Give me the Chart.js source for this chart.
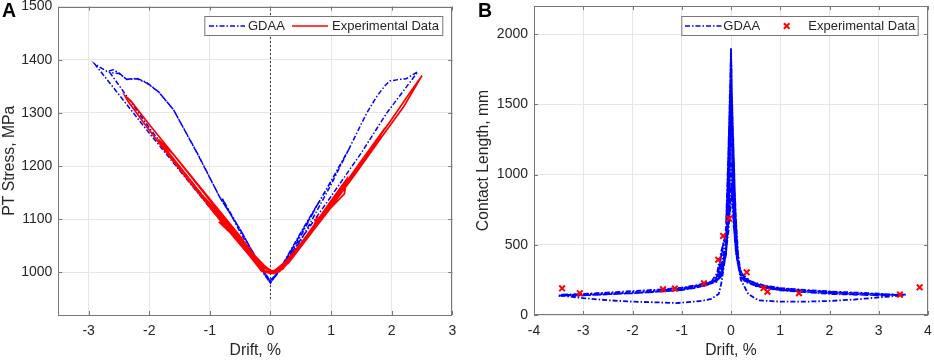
<!DOCTYPE html>
<html>
<head>
<meta charset="utf-8">
<script src="https://cdn.jsdelivr.net/npm/chart.js@4.4.1/dist/chart.umd.min.js"></script>
<style>
  body { margin: 0; background: #fff; width: 934px; height: 360px; position: relative; overflow: hidden; }
  canvas { position: absolute; top: 0; }
  .tag { position: absolute; top: 0; z-index: 2; font: bold 19.5px 'Liberation Sans', Arial, sans-serif; line-height: 20px; color: #000; }
</style>
</head>
<body>
<canvas id="chartA" width="467" height="360" style="left:0"></canvas>
<canvas id="chartB" width="460" height="360" style="left:474px"></canvas>
<div class="tag" style="left:2px">A</div>
<div class="tag" style="left:478px">B</div>
<script>
// ---- data (drift %, value) ----
const driftTicksA = [-3, -2, -1, 0, 1, 2, 3];
const stressTicks = [1000, 1100, 1200, 1300, 1400, 1500];
const driftTicksB = [-4, -3, -2, -1, 0, 1, 2, 3, 4];
const contactTicks = [0, 500, 1000, 1500, 2000];

// panel A: PT stress (MPa)
const gdaaStress = [
  [0, 985], [0.15, 1005], [0.5, 1075], [0.8, 1133],
  [0.5, 1068], [0.2, 1012], [0, 983],
  [-0.2, 1020], [-0.5, 1080], [-0.8, 1140],
  [-0.5, 1076], [-0.2, 1016], [0, 980],
  [0.15, 1004], [0.5, 1073], [1.0, 1172], [1.29, 1231],
  [1.0, 1165], [0.5, 1060], [0.15, 1003], [0, 981],
  [-0.2, 1019], [-0.5, 1081], [-0.83, 1140], [-1.2, 1222], [-1.6, 1306], [-1.85, 1340], [-2.04, 1356],
  [-2.2, 1364], [-2.37, 1363], [-2.5, 1374], [-2.65, 1376],
  [-2.0, 1272], [-1.5, 1198], [-1.0, 1128], [-0.5, 1062], [-0.2, 1015], [0, 980],
  [0.16, 1005], [0.5, 1073], [1.0, 1171], [1.29, 1231], [1.45, 1268], [1.59, 1300], [1.75, 1330],
  [1.88, 1350], [1.97, 1360], [2.13, 1363], [2.24, 1364], [2.35, 1372], [2.43, 1377],
  [1.92, 1300], [1.5, 1225], [1.0, 1143], [0.5, 1062], [0.15, 1005], [0, 982],
  [-0.2, 1020], [-0.5, 1081], [-0.83, 1140], [-1.2, 1223], [-1.6, 1306], [-1.85, 1340], [-2.04, 1357],
  [-2.2, 1365], [-2.37, 1363], [-2.5, 1375], [-2.59, 1381], [-2.7, 1378], [-2.9, 1392],
  [-2.4, 1320], [-2.0, 1262], [-1.5, 1192], [-1.0, 1122], [-0.5, 1054], [-0.2, 1012], [0, 980]
];
const expStress = [
  [0, 1000], [0.15, 1003], [0.3, 1020], [0.5, 1050], [0.35, 1028], [0.15, 1002], [0, 998],
  [-0.15, 1003], [-0.3, 1025], [-0.5, 1055], [-0.35, 1033], [-0.15, 1006], [0, 1000],
  [0.2, 1006], [0.5, 1048], [0.7, 1080], [0.76, 1103], [0.86, 1105], [0.6, 1068], [0.3, 1022], [0.1, 999],
  [-0.1, 1000], [-0.4, 1040], [-0.8, 1098], [-0.84, 1094], [-0.6, 1068], [-0.3, 1028], [-0.1, 1004], [0.05, 998],
  [0.3, 1018], [0.7, 1078], [1.0, 1122], [1.22, 1148], [1.26, 1176], [1.0, 1135], [0.6, 1070], [0.3, 1025], [0.05, 1002],
  [-0.2, 1012], [-0.6, 1066], [-1.0, 1122], [-1.25, 1160], [-1.0, 1130], [-0.6, 1075], [-0.2, 1018], [0.05, 999],
  [0.4, 1035], [0.9, 1110], [1.4, 1188], [1.78, 1248], [1.83, 1262], [1.5, 1210], [1.0, 1130], [0.5, 1055], [0.15, 1006], [0, 1001],
  [-0.4, 1048], [-0.9, 1112], [-1.4, 1185], [-1.85, 1250], [-1.6, 1222], [-1.1, 1150], [-0.6, 1078], [-0.25, 1025], [0.05, 1000],
  [0.4, 1035], [0.9, 1108], [1.4, 1185], [1.9, 1265], [2.2, 1312], [2.5, 1370], [2.3, 1338], [2.0, 1288], [1.5, 1208],
  [1.0, 1128], [0.5, 1052], [0.15, 1006], [0, 1002],
  [-0.3, 1030], [-0.8, 1095], [-1.3, 1165], [-1.8, 1238], [-2.1, 1283], [-2.35, 1322], [-2.4, 1332], [-2.3, 1322],
  [-2.0, 1278], [-1.5, 1208], [-1.0, 1138], [-0.5, 1068], [-0.2, 1022], [0, 1003]
];
const zeroDrift = [[0, 950], [0, 1500]];

// panel B: contact length (mm)
const gdaaContact = [
  [0, 1900],
  [0.02, 1300], [0.05, 750], [0.1, 470], [0.15, 340], [0.2, 285], [0.3, 245], [0.5, 218], [0.7, 202],
  [0.5, 225], [0.3, 255], [0.2, 300], [0.12, 420], [0.06, 700], [0.02, 1400], [0, 1880],
  [-0.02, 1250], [-0.05, 720], [-0.1, 460], [-0.15, 335], [-0.2, 282], [-0.3, 245], [-0.6, 212],
  [-0.4, 235], [-0.28, 300], [-0.2, 450], [-0.12, 560], [-0.05, 800], [-0.02, 1350], [0, 1850],
  [0.02, 1280], [0.05, 720], [0.1, 455], [0.2, 275], [0.3, 238], [0.5, 212], [0.7, 198], [1.0, 182], [1.4, 168],
  [1.0, 178], [0.6, 200], [0.3, 240], [0.15, 350], [0.08, 520], [0.03, 900], [0, 1800],
  [-0.02, 1200], [-0.05, 700], [-0.1, 450], [-0.2, 278], [-0.3, 240], [-0.5, 220], [-1.0, 188], [-1.4, 178],
  [-1.0, 185], [-0.6, 205], [-0.35, 230], [-0.25, 300], [-0.2, 420], [-0.15, 520], [-0.08, 600], [-0.03, 900], [0, 1750],
  [0.02, 1260], [0.05, 700], [0.1, 450], [0.2, 270], [0.3, 235], [0.5, 208], [0.7, 195], [1.0, 180], [1.5, 165],
  [2.0, 155], [2.5, 150], [3.0, 145], [3.5, 140],
  [3.0, 125], [2.5, 110], [2.0, 100], [1.5, 95], [1.0, 95], [0.55, 105], [0.35, 150], [0.2, 250], [0.12, 400], [0.05, 650], [0, 1000],
  [-0.02, 1150], [-0.05, 680], [-0.1, 440], [-0.2, 275], [-0.3, 238], [-0.5, 215], [-1.0, 183], [-1.5, 170],
  [-2.0, 160], [-2.5, 150], [-3.0, 145], [-3.5, 140],
  [-3.0, 120], [-2.5, 105], [-2.0, 95], [-1.5, 90], [-1.1, 85], [-0.6, 100], [-0.4, 115], [-0.25, 150], [-0.2, 220],
  [-0.12, 400], [-0.05, 600], [0, 900],
  [0.03, 900], [0.1, 440], [0.2, 265], [0.5, 205], [1.0, 175], [2.0, 150], [3.0, 140], [3.55, 145],
  [3.0, 140], [2.0, 155], [1.0, 178], [0.5, 210], [0.2, 290], [0.08, 600], [0, 1500],
  [-0.03, 900], [-0.1, 445], [-0.2, 270], [-0.5, 210], [-1.0, 178], [-2.0, 155], [-3.0, 140], [-3.5, 135],
  [-3.0, 148], [-2.0, 162], [-1.0, 190], [-0.5, 222], [-0.25, 260], [-0.1, 480], [-0.03, 1000], [0, 1700],
  [0.01, 1600], [0.03, 1000], [0.06, 620], [0.1, 460], [0.2, 290], [0.4, 232], [0.7, 205], [1.0, 190], [1.5, 175],
  [2.0, 165], [2.5, 155], [3.0, 148], [3.45, 142],
  [3.0, 152], [2.5, 160], [2.0, 168], [1.5, 178], [1.0, 192], [0.7, 208], [0.4, 240], [0.2, 300], [0.1, 480],
  [0.05, 800], [0.02, 1300], [0, 1880],
  [-0.01, 1600], [-0.03, 1000], [-0.06, 640], [-0.1, 470], [-0.2, 295], [-0.4, 238], [-0.7, 212], [-1.0, 195],
  [-1.5, 180], [-2.0, 170], [-2.5, 160], [-3.0, 150], [-3.45, 145],
  [-3.0, 140], [-2.5, 148], [-2.0, 155], [-1.5, 165], [-1.0, 178], [-0.7, 195], [-0.4, 225], [-0.2, 280], [-0.1, 430],
  [-0.05, 700], [-0.02, 1200], [0, 1900],
  [0.01, 1700], [0.03, 1100], [0.05, 800], [0.03, 1200], [0.01, 1800], [-0.01, 1750], [-0.03, 1150], [-0.05, 850],
  [-0.07, 600], [-0.04, 1000], [-0.015, 1600], [0, 1850], [0.015, 1650], [0.04, 950], [0.07, 650], [0.04, 1050],
  [0.01, 1700], [0, 1900],
  [-0.1, 520], [-0.2, 350], [-0.3, 230], [-0.25, 330], [-0.15, 500], [-0.05, 650], [0, 800],
  [0.06, 1100], [0.09, 700], [0.12, 520], [0.07, 950], [0.03, 1400], [0, 1850],
  [-0.04, 1300], [-0.07, 900], [-0.1, 650], [-0.06, 1100], [-0.02, 1550], [0, 1800],
  [0.05, 1200], [0.1, 600], [0.15, 400], [0.08, 800], [0.02, 1500], [0, 1700]
];
const expContact = [
  [-3.43, 190], [-3.07, 155], [-1.38, 183], [-1.14, 188], [-0.55, 226], [-0.26, 394], [-0.16, 563],
  [-0.04, 686], [0.32, 304], [0.66, 192], [0.74, 166], [1.38, 155], [3.43, 145], [3.83, 197]
];

// ---- style ----
const FONT = "'Liberation Sans', Arial, sans-serif";
const TEXT = '#262626';
const FRAME = '#777777';
const GRID = '#e6e6e6';
const BLUE = '#0000ff';
const RED = '#ff0000';
const DASHDOT = [5, 2, 1.5, 2];

const pts = arr => arr.map(p => ({ x: p[0], y: p[1] }));

function drawLegend(ctx, lg) {
  ctx.save();
  ctx.fillStyle = '#fff';
  ctx.fillRect(lg.left, lg.top, lg.width, lg.height);
  ctx.strokeStyle = FRAME;
  ctx.lineWidth = 1;
  ctx.strokeRect(lg.left + 0.5, lg.top + 0.5, lg.width - 1, lg.height - 1);
  const cy = lg.top + lg.height / 2;
  lg.items.forEach(it => {
    ctx.save();
    if (it.kind === 'line') {
      ctx.strokeStyle = it.color;
      ctx.lineWidth = 1.5;
      ctx.setLineDash(it.dash || []);
      ctx.beginPath();
      ctx.moveTo(lg.left + it.sx, cy);
      ctx.lineTo(lg.left + it.sx + it.sw, cy);
      ctx.stroke();
    } else {
      ctx.strokeStyle = it.color;
      ctx.lineWidth = 2;
      const cx = lg.left + it.sx, r = 2.8;
      ctx.beginPath();
      ctx.moveTo(cx - r, cy - r); ctx.lineTo(cx + r, cy + r);
      ctx.moveTo(cx - r, cy + r); ctx.lineTo(cx + r, cy - r);
      ctx.stroke();
    }
    ctx.restore();
    ctx.fillStyle = TEXT;
    ctx.font = '13px ' + FONT;
    ctx.textBaseline = 'middle';
    ctx.fillText(it.label, lg.left + it.tx, cy + 0.5);
  });
  ctx.restore();
}

// frame on all four sides, inward ticks, boxed legend (MATLAB look)
const matlabBox = {
  id: 'matlabBox',
  afterDatasetsDraw(chart, args, opts) {
    const { ctx, chartArea: a, scales } = chart;
    ctx.save();
    ctx.strokeStyle = FRAME;
    ctx.lineWidth = 1;
    ctx.beginPath();
    scales.x.ticks.forEach(t => {
      const px = Math.round(scales.x.getPixelForValue(t.value)) + 0.5;
      ctx.moveTo(px, a.bottom); ctx.lineTo(px, a.bottom - 4);
      ctx.moveTo(px, a.top); ctx.lineTo(px, a.top + 4);
    });
    scales.y.ticks.forEach(t => {
      const py = Math.round(scales.y.getPixelForValue(t.value)) + 0.5;
      ctx.moveTo(a.left, py); ctx.lineTo(a.left + 4, py);
      ctx.moveTo(a.right, py); ctx.lineTo(a.right - 4, py);
    });
    ctx.stroke();
    ctx.strokeRect(Math.round(a.left) + 0.5, Math.round(a.top) + 0.5,
      Math.round(a.width) - 1, Math.round(a.height) - 1);
    ctx.restore();
    if (opts.legend) drawLegend(ctx, opts.legend);
  }
};

function axis(min, max, ticks, title, isX, size) {
  return {
    type: 'linear', min: min, max: max,
    afterBuildTicks: s => { s.ticks = ticks.map(v => ({ value: v })); },
    afterFit: s => {
      if (isX) { s.height = size; s.paddingLeft = 0; s.paddingRight = 0; }
      else { s.width = size; s.paddingTop = 0; s.paddingBottom = 0; }
    },
    grid: { color: GRID, drawTicks: false },
    border: { display: false },
    ticks: { color: TEXT, font: { family: FONT, size: 14 }, padding: isX ? 8 : 6,
      callback: v => String(v) },
    title: { display: true, text: title, color: TEXT, font: { family: FONT, size: 15.7 }, padding: 0 }
  };
}

Chart.defaults.animation = false;

new Chart(document.getElementById('chartA'), {
  type: 'scatter',
  data: {
    datasets: [
      { label: 'Experimental Data', data: pts(expStress), showLine: true, borderColor: RED, borderWidth: 1.7,
        pointRadius: 0, order: 0 },
      { label: 'GDAA', data: pts(gdaaStress), showLine: true, borderColor: BLUE, borderWidth: 1.5,
        borderDash: DASHDOT, pointRadius: 0, order: 1 },
      { label: 'zero', data: pts(zeroDrift), showLine: true, borderColor: '#333', borderWidth: 1,
        borderDash: [2, 2], pointRadius: 0, order: 2 }
    ]
  },
  options: {
    responsive: false,
    devicePixelRatio: 1,
    layout: { padding: { top: 6.5, right: 14.7, left: 0, bottom: 0 } },
    scales: {
      x: axis(-3.5, 3, driftTicksA, 'Drift, %', true, 45),
      y: axis(920, 1500, stressTicks, 'PT Stress, MPa', false, 58.3)
    },
    plugins: {
      legend: { display: false },
      tooltip: { enabled: false },
      matlabBox: {
        legend: {
          left: 204.3, top: 16, width: 239, height: 20,
          items: [
            { kind: 'line', color: BLUE, dash: DASHDOT, sx: 4.7, sw: 36, tx: 43.7, label: 'GDAA' },
            { kind: 'line', color: RED, sx: 87.7, sw: 36, tx: 127.7, label: 'Experimental Data' }
          ]
        }
      }
    }
  },
  plugins: [matlabBox]
});

new Chart(document.getElementById('chartB'), {
  type: 'scatter',
  data: {
    datasets: [
      { label: 'Experimental Data', data: pts(expContact), showLine: false, pointStyle: 'crossRot',
        pointRadius: 4, borderColor: RED, backgroundColor: RED, pointBorderWidth: 2, order: 0 },
      { label: 'GDAA', data: pts(gdaaContact), showLine: true, borderColor: BLUE, borderWidth: 1.8,
        borderDash: DASHDOT, pointRadius: 0, order: 1 }
    ]
  },
  options: {
    responsive: false,
    devicePixelRatio: 1,
    layout: { padding: { top: 6, right: 4.7, left: 0, bottom: 0 } },
    scales: {
      x: axis(-4, 4, driftTicksB, 'Drift, %', true, 45),
      y: axis(0, 2200, contactTicks, 'Contact Length, mm', false, 60)
    },
    plugins: {
      legend: { display: false },
      tooltip: { enabled: false },
      matlabBox: {
        legend: {
          left: 207.3, top: 16, width: 237.4, height: 20,
          items: [
            { kind: 'line', color: BLUE, dash: DASHDOT, sx: 3.7, sw: 37, tx: 42, label: 'GDAA' },
            { kind: 'marker', color: RED, sx: 105.4, tx: 127, label: 'Experimental Data' }
          ]
        }
      }
    }
  },
  plugins: [matlabBox]
});
</script>
</body>
</html>
